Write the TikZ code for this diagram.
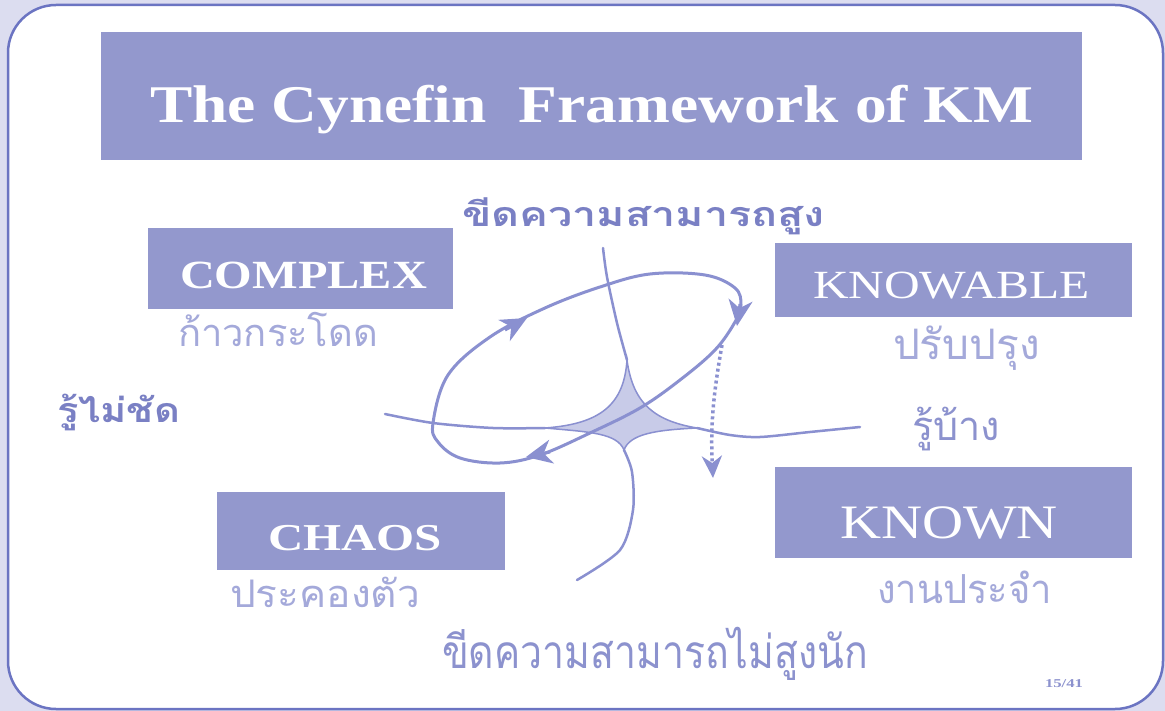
\documentclass[tikz,border=0pt]{standalone}
\usepackage{fontspec}
\usepackage{graphicx}
\setmainfont{Liberation Serif}
\newfontfamily\thaifont[Script=Thai]{Loma}
\usetikzlibrary{arrows.meta}
\definecolor{bgout}{HTML}{DCDDF0}
\definecolor{framec}{HTML}{6B74C2}
\definecolor{boxc}{HTML}{9398CD}
\definecolor{linec}{HTML}{8A90D0}
\definecolor{thaidark}{HTML}{7A80C4}
\definecolor{thaimid}{HTML}{8C92CE}
\definecolor{thailight}{HTML}{A4A9DA}
\definecolor{starc}{HTML}{C8CBE8}
\newcommand{\fitw}[3]{\resizebox{#1}{\height}{\fontsize{#2}{#2}\selectfont #3}}
\begin{document}
\begin{tikzpicture}[x=1pt,y=-1pt,
  boxnode/.style={fill=boxc, draw=none, anchor=north west, inner sep=0pt, outer sep=0pt},
  lbl/.style={anchor=base west, inner sep=0pt, outer sep=0pt},
  curvel/.style={draw=linec, line width=2.5pt, line cap=round},
  loopl/.style={draw=linec, line width=3pt},
  tipl/.style={draw=linec, line width=3pt, -{Stealth[length=26pt 0 0,width=24pt 0 0,inset=8pt 0 0]}},
]
\useasboundingbox (0,0) rectangle (1165,711);
\fill[bgout] (0,0) rectangle (1165,711);
\draw[framec, fill=white, line width=2.5pt, rounded corners=48pt] (8,5) rectangle (1163,709);

% boxes
\node[boxnode, minimum width=981pt, minimum height=128pt] (titlebox) at (101,32) {};
\node[boxnode, minimum width=305pt, minimum height=81pt] (complexbox) at (148,228) {};
\node[boxnode, minimum width=357pt, minimum height=74pt] (knowablebox) at (775,243) {};
\node[boxnode, minimum width=357pt, minimum height=91pt] (knownbox) at (775,467) {};
\node[boxnode, minimum width=288pt, minimum height=78pt] (chaosbox) at (217,492) {};

% box texts
\node[lbl, text=white] (title) at (150,123) {\fitw{883pt}{53pt}{\bfseries The Cynefin\ \ Framework of KM}};
\node[lbl, text=white] (complex) at (180,289) {\fitw{247pt}{40pt}{\bfseries COMPLEX}};
\node[lbl, text=white] (knowable) at (813,299) {\fitw{277pt}{40pt}{KNOWABLE}};
\node[lbl, text=white] (known) at (840,538) {\fitw{218pt}{48pt}{KNOWN}};
\node[lbl, text=white] (chaos) at (268,550) {\fitw{174pt}{38pt}{\bfseries CHAOS}};

% Thai texts
\node[lbl, text=thailight] (leap) at (178,347) {\fitw{200pt}{38pt}{\thaifont ก้าวกระโดด}};
\node[lbl, text=thaidark] (unclear) at (57,422) {\fitw{123pt}{34pt}{\thaifont\bfseries รู้ไม่ชัด}};
\node[lbl, text=thaidark] (high) at (462,227) {\fitw{363pt}{34pt}{\thaifont\bfseries ขีดความสามารถสูง}};
\node[lbl, text=thailight] (improve) at (893,360) {\fitw{147pt}{42pt}{\thaifont ปรับปรุง}};
\node[lbl, text=thaimid] (some) at (912,440) {\fitw{88pt}{40pt}{\thaifont รู้บ้าง}};
\node[lbl, text=thailight] (routine) at (877,603) {\fitw{175pt}{40pt}{\thaifont งานประจำ}};
\node[lbl, text=thailight] (survive) at (230,607) {\fitw{190pt}{38pt}{\thaifont ประคองตัว}};
\node[lbl, text=thaimid] (low) at (442,668) {\fitw{426pt}{46pt}{\thaifont ขีดความสามารถไม่สูงนัก}};
\node[lbl, text=thaimid] (page) at (1045,687) {\fitw{38pt}{12pt}{\bfseries 15/41}};

% star (disorder)
\filldraw[fill=starc, draw=linec, line width=1.5pt]
  (545,428) .. controls (600,424) and (624,405) .. (627,360)
  .. controls (633,405) and (656,421) .. (697,428)
  .. controls (655,430) and (630,434) .. (624,450)
  .. controls (617,433) and (590,432) .. (545,428) -- cycle;

% boundary curves
\draw[curvel] plot[smooth] coordinates {(385,414) (433,423) (493,428) (545,428)};
\draw[curvel] plot[smooth] coordinates {(697,428) (730,435) (760,437) (810,432) (860,427)};
\draw[curvel] plot[smooth] coordinates {(603,248) (607,277) (617,323) (627,360)};
\draw[curvel] plot[smooth] coordinates {(624,450) (632,472) (633,510) (620,550) (577,580)};

% loop
\draw[loopl] plot[smooth cycle, tension=0.6] coordinates {(433,423) (448,375) (490,337) (545,308) (600,287) (650,274) (705,275) (735,288) (741,305) (735,322) (715,350) (680,380) (640,408) (590,433) (540,455) (500,463) (460,458) (438,442)};
\draw[tipl] (505,330) -- (527,318);
\draw[tipl] (740,304) -- (737,326);
\draw[tipl] (550,452) -- (526,457);

% dotted arrow
\draw[linec, line width=3.5pt, dash pattern=on 3pt off 3pt, -{Stealth[length=22pt 0 0,width=20pt 0 0,inset=7pt 0 0]}]
  (722,345) .. controls (715,385) and (710,420) .. (713,478);
\end{tikzpicture}
\end{document}
